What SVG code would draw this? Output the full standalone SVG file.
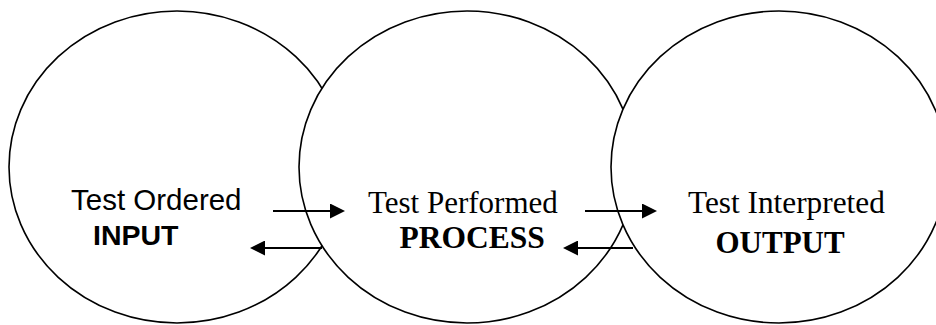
<svg xmlns="http://www.w3.org/2000/svg" width="936" height="325" viewBox="0 0 936 325">
  <style>
    .node { fill: #ffffff; stroke: #000000; stroke-width: 1.6; }
    .arial { font-family: "Liberation Sans", Arial, sans-serif; fill: #000000; }
    .times { font-family: "Liberation Serif", "Times New Roman", serif; fill: #000000; }
    .bold { font-weight: bold; }
    .conn { stroke: #000000; stroke-width: 2; fill: none; marker-end: url(#arrow); }
  </style>
  <defs>
    <marker id="arrow" markerUnits="userSpaceOnUse" markerWidth="15" markerHeight="15" refX="5" refY="7.5" orient="auto">
      <path d="M0,0 L15,7.5 L0,15 z" fill="#000000"/>
    </marker>
  </defs>
  <rect width="936" height="325" fill="#ffffff"/>
  <g id="node-input">
    <ellipse class="node" cx="177" cy="167" rx="168" ry="156"/>
    <text class="arial" x="71" y="210" font-size="29.5">Test Ordered</text>
    <text class="arial bold" x="93" y="245" font-size="28.5">INPUT</text>
  </g>
  <g id="node-process">
    <ellipse class="node" cx="467" cy="167" rx="168" ry="156"/>
    <text class="times" x="368" y="213" font-size="31">Test Performed</text>
    <text class="times bold" x="399.5" y="248" font-size="31.5">PROCESS</text>
  </g>
  <g id="node-output">
    <ellipse class="node" cx="779" cy="167" rx="168" ry="156"/>
    <text class="times" x="688" y="213" font-size="31.3">Test Interpreted</text>
    <text class="times bold" x="715.5" y="253" font-size="31">OUTPUT</text>
  </g>
  <g id="connectors">
    <line class="conn" x1="273" y1="211" x2="335" y2="211"/>
    <line class="conn" x1="322" y1="248" x2="260" y2="248"/>
    <line class="conn" x1="585" y1="211" x2="647" y2="211"/>
    <line class="conn" x1="633" y1="248" x2="573" y2="248"/>
  </g>
</svg>
